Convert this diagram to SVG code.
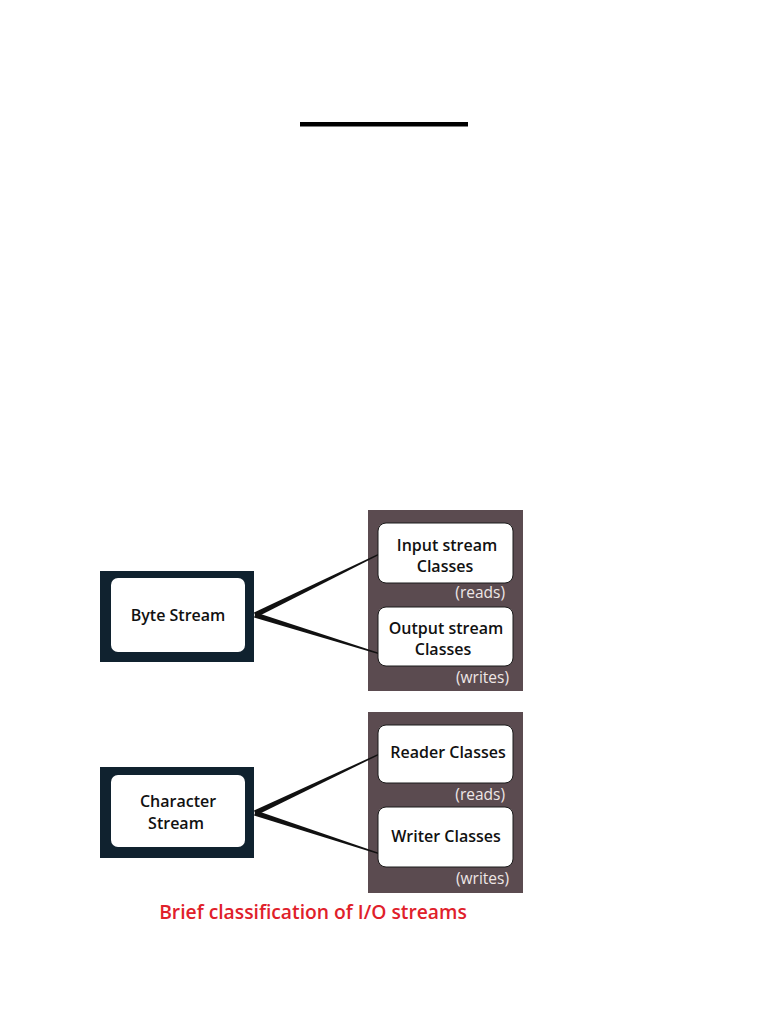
<svg xmlns="http://www.w3.org/2000/svg" width="768" height="1024" viewBox="0 0 768 1024">
<style>
.outer{fill:#10222f}
.inner{fill:#fff;stroke:#1a1a1a;stroke-width:1}
.panel{fill:#5b4b50}
.lbl{font-family:"Open Sans","Noto Sans",sans-serif;font-weight:600;font-size:16px;fill:#111;text-anchor:middle}
.note{font-family:"Open Sans","Noto Sans",sans-serif;font-size:15.5px;fill:#eee6e6;text-anchor:end}
.cap{font-family:"Open Sans","Noto Sans",sans-serif;font-weight:600;font-size:19.3px;fill:#e0202a;text-anchor:middle}
.wire{fill:#111}
</style>
<rect width="768" height="1024" fill="#fff"/>
<rect x="300" y="122" width="168" height="4.5" fill="#000"/>

<g id="panel1">
<rect class="panel" x="368" y="510" width="155" height="181"/>
</g>
<g id="panel2">
<rect class="panel" x="368" y="712" width="155" height="181"/>
</g>

<g id="connectors">
<polygon class="wire" points="254,612.5 378,554 378,555.5 256,617.5"/>
<polygon class="wire" points="256,612.5 378,652.5 378,654 254,617.5"/>
<polygon class="wire" points="254,810.5 378,754 378,755.5 256,815.5"/>
<polygon class="wire" points="256,810.5 378,852.5 378,854 254,815.5"/>
</g>

<g id="byte-stream">
<rect class="outer" x="100" y="571" width="154" height="91"/>
<rect x="111" y="578" width="134" height="74" rx="7" fill="#fff"/>
<text class="lbl" x="178" y="621">Byte Stream</text>
</g>

<g id="input-stream">
<rect class="inner" x="378" y="523" width="135" height="60" rx="8"/>
<text class="lbl" x="447" y="551">Input stream</text>
<text class="lbl" x="445" y="572">Classes</text>
<text class="note" x="505" y="598">(reads)</text>
</g>

<g id="output-stream">
<rect class="inner" x="378" y="607" width="135" height="59" rx="8"/>
<text class="lbl" x="446" y="634">Output stream</text>
<text class="lbl" x="443" y="655">Classes</text>
<text class="note" x="509" y="683">(writes)</text>
</g>

<g id="character-stream">
<rect class="outer" x="100" y="767" width="154" height="91"/>
<rect x="111" y="775" width="134" height="72" rx="7" fill="#fff"/>
<text class="lbl" x="178" y="807">Character</text>
<text class="lbl" x="176" y="829">Stream</text>
</g>

<g id="reader-classes">
<rect class="inner" x="378" y="725" width="135" height="58" rx="8"/>
<text class="lbl" x="448" y="758">Reader Classes</text>
<text class="note" x="505" y="800">(reads)</text>
</g>

<g id="writer-classes">
<rect class="inner" x="378" y="807" width="135" height="60" rx="8"/>
<text class="lbl" x="446" y="842">Writer Classes</text>
<text class="note" x="509" y="884">(writes)</text>
</g>

<text class="cap" x="313" y="919">Brief classification of I/O streams</text>
</svg>
